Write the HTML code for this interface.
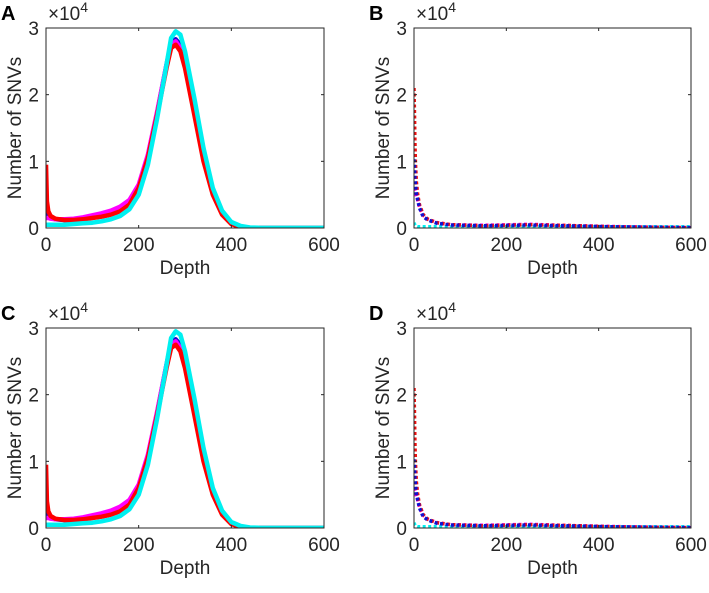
<!DOCTYPE html>
<html><head><meta charset="utf-8"><style>
body{margin:0;background:#fff;width:709px;height:588px;overflow:hidden}
svg text{font-family:"Liberation Sans",sans-serif;fill:#262626}
</style></head><body>
<svg id="fig" width="709" height="588"></svg>
<script>
const depthA=[0,2,5,10,20,40,60,80,100,120,140,160,180,200,220,240,260,270,280,290,300,320,340,360,380,400,420,440,460,500,600];
const redA=[9.5,4,2.5,1.8,1.4,1.2,1.2,1.3,1.5,1.7,2.0,2.5,3.5,6,10.5,17,24,27,27.5,26.5,24,17,10,5,2,0.6,0.1,0,0,0,0];
const magentaA=[1.5,1.5,1.5,1.4,1.3,1.3,1.4,1.6,1.9,2.2,2.6,3.2,4.2,6.5,11,17.5,24.5,27.5,28,27,24.5,17.5,10.5,5.3,2.1,0.7,0.15,0,0,0,0];
const blueA=[4.5,3,2,1.6,1.3,1.2,1.2,1.3,1.6,1.9,2.3,2.9,3.9,6.2,10.8,17.3,24.5,27.8,28.3,27.5,25,18,11,5.5,2.2,0.7,0.15,0,0,0,0];
const cyanA=[0.5,0.5,0.5,0.5,0.5,0.5,0.6,0.7,0.8,1.0,1.3,1.8,2.8,5,9.5,16.5,24.5,28.5,29.5,29,26.5,19.5,12,6,2.6,0.9,0.3,0.08,0.03,0.02,0.02];
const depthB=[0,1,2,3,5,8,12,20,30,50,80,150,250,350,450,600];
const redB=[21,17,13,10,7,5,3.5,2,1.3,0.8,0.5,0.35,0.5,0.35,0.15,0.05];
const blueB=[10.3,9,7.5,6.5,5.2,4.2,3,1.7,1.2,0.7,0.45,0.35,0.45,0.3,0.15,0.05];
const magentaB=[6,5.8,5.5,5.2,4.9,4.2,3.1,1.9,1.3,0.8,0.5,0.4,0.55,0.35,0.2,0.05];
const cyanB=[0.8,0.6,0.4,0.3,0.25,0.2,0.2,0.2,0.2,0.2,0.2,0.2,0.2,0.2,0.2,0.2];
const xTicks=[0,200,400,600];
const yTicks=[0,1,2,3];
const NS='http://www.w3.org/2000/svg';
const svg=document.getElementById('fig');
function mk(tag,attrs,parent){const e=document.createElementNS(NS,tag);for(const k in attrs)e.setAttribute(k,attrs[k]);(parent||svg).appendChild(e);return e;}
const defs=mk('defs',{});
function panel(letter,L,T,R,B,series,dotted){
  const g=mk('g',{});
  
  
  const cp=mk('clipPath',{id:'clip'+letter},defs);
  mk('rect',{x:L,y:T-3,width:R-L+2,height:B-T+3},cp);
  const xs=v=>L+(R-L)*v/600, ys=v=>B-(B-T)*v/30;
  const sg=mk('g',{'clip-path':'url(#clip'+letter+')'},g);
  series.forEach(s=>{
    const d=s.x.map((x,i)=>(i?'L':'M')+xs(x).toFixed(1)+','+ys(s.y[i]).toFixed(1)).join('');
    const p=mk('path',{d:d,fill:'none',stroke:s.c,'stroke-width':dotted?3.5:4.5,'stroke-linejoin':'round','stroke-dasharray':dotted?'3 2.5':'none'},sg);
    
    
  });
  const box=mk('rect',{x:L,y:T,width:R-L,height:B-T,fill:'none',stroke:'#262626','stroke-width':1},g);
  
  
  xTicks.forEach(t=>{
    const x=xs(t);
    mk('line',{x1:x,x2:x,y1:B,y2:B-3,stroke:'#262626'},g);mk('line',{x1:x,x2:x,y1:T,y2:T+3,stroke:'#262626'},g);
    const tx=mk('text',{x:x,y:B+23,'font-size':19,'text-anchor':'middle'},g);tx.textContent=t;
    
    
  });
  yTicks.forEach(t=>{
    const y=B-(B-T)*t/3;
    mk('line',{x1:L,x2:L+3,y1:y,y2:y,stroke:'#262626'},g);mk('line',{x1:R,x2:R-3,y1:y,y2:y,stroke:'#262626'},g);
    const tx=mk('text',{x:L-7,y:y+7,'font-size':19,'text-anchor':'end'},g);tx.textContent=t;
    
    
  });
  const ex=mk('text',{x:L+2,y:T-8,'font-size':19},g);ex.innerHTML='×10<tspan dy="-8" font-size="14">4</tspan>';
  
  
  const xl=mk('text',{x:(L+R)/2,y:B+46,'font-size':19,'text-anchor':'middle'},g);xl.textContent='Depth';
  
  
  const yl=mk('text',{x:0,y:0,'font-size':19,'text-anchor':'middle',transform:`translate(${L-25},${(T+B)/2}) rotate(-90)`},g);yl.textContent='Number of SNVs';
  
  
  const pl=mk('text',{x:L-45,y:T-8,'font-size':20,'font-weight':'bold',style:'fill:#000'},g);pl.textContent=letter;
  
  
}
const sA=[{n:'blue',c:'#1010d0',x:depthA,y:blueA},{n:'magenta',c:'#ff00ff',x:depthA,y:magentaA},{n:'red',c:'#ff0000',x:depthA,y:redA},{n:'cyan',c:'#00f0f0',x:depthA,y:cyanA}];
const sB=[{n:'cyan',c:'#00f0f0',x:depthB,y:cyanB},{n:'magenta',c:'#ff00ff',x:depthB,y:magentaB},{n:'red',c:'#ee1010',x:depthB,y:redB},{n:'blue',c:'#1010d0',x:depthB,y:blueB}];
panel('A',46,28,324,228,sA,false);
panel('B',414,28,691,228,sB,true);
panel('C',46,328,324,528,sA,false);
panel('D',414,328,691,528,sB,true);
</script>
</body></html>
